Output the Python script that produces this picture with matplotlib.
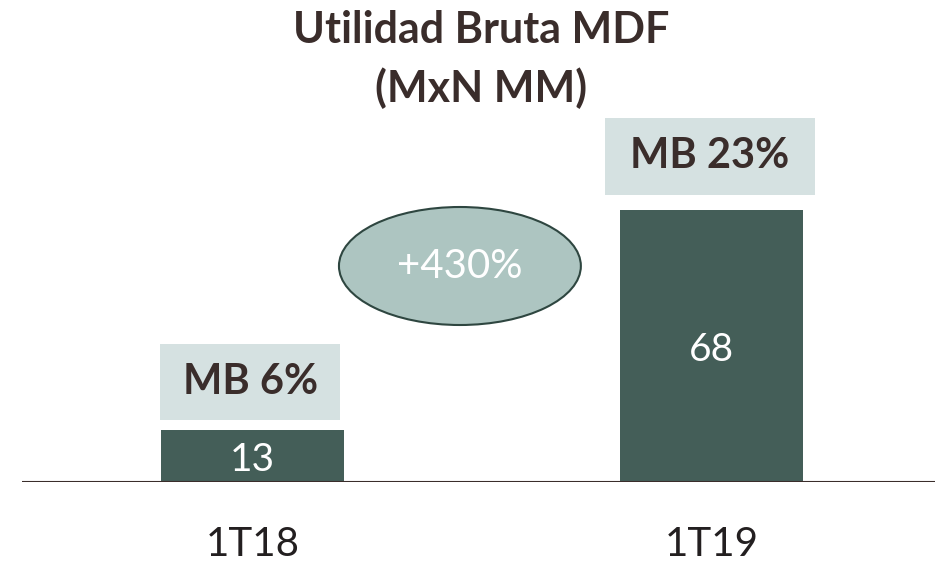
import matplotlib
matplotlib.use("Agg")
import matplotlib.pyplot as plt
from matplotlib.patches import Ellipse, Rectangle

categories = ["1T18", "1T19"]
values = [13, 68]
margins = ["MB 6%", "MB 23%"]
growth = "+430%"
title_lines = ["Utilidad Bruta MDF", "(MxN MM)"]

plt.rcParams['font.family'] = ['Lato', 'DejaVu Sans']

W, H = 935, 565
fig = plt.figure(figsize=(W/100, H/100), dpi=100)
ax = fig.add_axes([22/W, 83/H, (W-22)/W, (H-83)/H])
ax.set_xlim(-0.502, 1.487)
ax.set_ylim(0, 120.5)

bar_color = "#445e58"
text_dark = "#3a2d2b"
box_color = "#d5e1e1"

x = list(range(len(categories)))
ax.bar(x, values, width=0.399, color=bar_color, zorder=2)
for xi, v in zip(x, values):
    ax.annotate(str(v), (xi, v/2), xytext=(0, -3), textcoords="offset points",
                ha="center", va="center", color="white", fontsize=28, zorder=3)

# margin boxes
boxes = [(-0.005, 0.392, 15.5, 19.0), (0.997, 0.458, 71.75, 19.25)]
for (cx, w, y0, h), lab in zip(boxes, margins):
    ax.add_patch(Rectangle((cx - w/2, y0), w, h, facecolor=box_color, edgecolor="none", zorder=2))
    ax.text(cx, y0 + h/2, lab, ha="center", va="center", color=text_dark, fontsize=30,
            fontweight="bold", zorder=3)

# growth ellipse
ax.add_patch(Ellipse((0.452, 54), 0.527, 29.5, facecolor="#adc5c1", edgecolor="#2e4640",
                     linewidth=1.5, zorder=2))
ax.text(0.452, 54, growth, ha="center", va="center", color="white", fontsize=29, zorder=3)

# baseline
ax.axhline(0, color="#3a2d2b", linewidth=1.5, zorder=4)

for s in ax.spines.values():
    s.set_visible(False)
ax.set_yticks([])
ax.set_xticks(x)
ax.set_xticklabels(categories, fontsize=29, color="#231f20")
ax.tick_params(axis="x", length=0, pad=32)

fig.text(481/W, 1 - 30/H, title_lines[0], ha="center", va="center", fontsize=31,
         fontweight="bold", color=text_dark)
fig.text(481/W, 1 - 88/H, title_lines[1], ha="center", va="center", fontsize=31,
         fontweight="bold", color=text_dark)

fig.savefig("out.png", dpi=100)
